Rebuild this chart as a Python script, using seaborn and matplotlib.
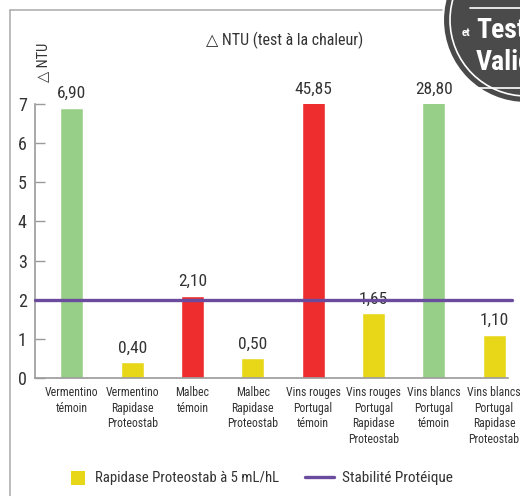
import seaborn as sns
import matplotlib.pyplot as plt
from matplotlib.patches import Circle, Rectangle
from matplotlib.lines import Line2D

sns.set_theme(style="white")
plt.rcParams['font.family'] = ['Roboto Condensed', 'Roboto', 'DejaVu Sans']

### data
categories = ["Vermentino\ntémoin", "Vermentino\nRapidase\nProteostab", "Malbec\ntémoin",
              "Malbec\nRapidase\nProteostab", "Vins rouges\nPortugal\ntémoin",
              "Vins rouges\nPortugal\nRapidase\nProteostab", "Vins blancs\nPortugal\ntémoin",
              "Vins blancs\nPortugal\nRapidase\nProteostab"]
values = [6.90, 0.40, 2.10, 0.50, 45.85, 1.65, 28.80, 1.10]
value_labels = ["6,90", "0,40", "2,10", "0,50", "45,85", "1,65", "28,80", "1,10"]
bar_colors = ["#98cf88", "#e8d619", "#ee2e2e", "#e8d619", "#ee2e2e", "#e8d619", "#98cf88", "#e8d619"]
stability_limit = 2
y_max = 7

yellow, purple = "#e8d619", "#6b4b9e"
grey = "#9a9a9a"
txt = "#333333"

fig = plt.figure(figsize=(5.2, 4.96), dpi=100)
ax = fig.add_axes([35/520, 1-378/496, (508-35)/520, (378-104)/496])

sns.barplot(x=categories, y=values, hue=categories, palette=bar_colors, width=0.38,
            legend=False, saturation=1, ax=ax)
ax.set_ylim(0, y_max)
ax.set_xlim(-0.61, 7.23)

for i, (v, lab) in enumerate(zip(values, value_labels)):
    ax.annotate(lab, (i, min(v, y_max)), xytext=(0, 5), textcoords='offset points',
                ha='center', va='bottom', fontsize=12.5, color=txt, annotation_clip=False)

ax.axhline(stability_limit, xmin=0, xmax=(512-35)/(508-35), color=purple, lw=2.4, clip_on=False, zorder=5)

for s in ['top', 'right']:
    ax.spines[s].set_visible(False)
for s in ['left', 'bottom']:
    ax.spines[s].set_color(grey)
    ax.spines[s].set_linewidth(1.2)
ax.set_yticks(range(0, 8))
ax.tick_params(axis='y', direction='in', length=7, width=1, color=grey, labelsize=13,
               labelcolor=txt, pad=6, left=True)
ax.tick_params(axis='x', length=0, labelsize=8.5, labelcolor=txt, pad=6)
for t in ax.get_xticklabels():
    t.set_linespacing(1.25)
ax.set_xlabel('')
ax.set_ylabel('')

# titles
fig.text(285/520, 1-40/496, '△ NTU (test à la chaleur)', ha='center', va='center',
         fontsize=11.5, color=txt)
fig.text(43/520, 1-62/496, '△ NTU', ha='center', va='center', rotation=90,
         fontsize=10.5, color=txt)

# legend
fig.add_artist(Rectangle((71/520, 1-485/496), 14/520, 14/496, transform=fig.transFigure,
                         facecolor=yellow, edgecolor='none'))
fig.text(95/520, 1-478/496, 'Rapidase Proteostab à 5 mL/hL', ha='left', va='center',
         fontsize=10.6, color=txt)
fig.add_artist(Line2D([305/520, 334/520], [1-477/496, 1-477/496], transform=fig.transFigure,
                      color=purple, lw=2.4))
fig.text(342/520, 1-478/496, 'Stabilité Protéique', ha='left', va='center',
         fontsize=11, color=txt)

# page frame
fig.add_artist(Line2D([10/520, 10/520], [0, 1-10/496], transform=fig.transFigure, color='#b0b0b0', lw=1.2))
fig.add_artist(Line2D([10/520, 470/520], [1-10/496, 1-10/496], transform=fig.transFigure, color='#b0b0b0', lw=1.2))

# badge
badge = fig.add_axes([0, 0, 1, 1], zorder=10)
badge.set_xlim(0, 520)
badge.set_ylim(496, 0)
badge.axis('off')
badge.add_patch(Circle((526, 20), 83, facecolor='#4a4a4a', edgecolor='white', lw=1.5))
badge.add_patch(Circle((526, 20), 76, facecolor='none', edgecolor='white', lw=1.2))
badge.plot([470, 520], [8, 8], color='white', lw=1.2)
badge.plot([470, 520], [88, 88], color='white', lw=1.2)
badge.text(476, 30, 'Tests', color='white', fontsize=20, fontweight='bold', ha='left', va='center')
badge.text(466, 33, 'et', color='white', fontsize=8, fontweight='bold', ha='center', va='center')
badge.text(476, 62, 'Validé', color='white', fontsize=20, fontweight='bold', ha='left', va='center')

fig.savefig('out.png', dpi=100)
